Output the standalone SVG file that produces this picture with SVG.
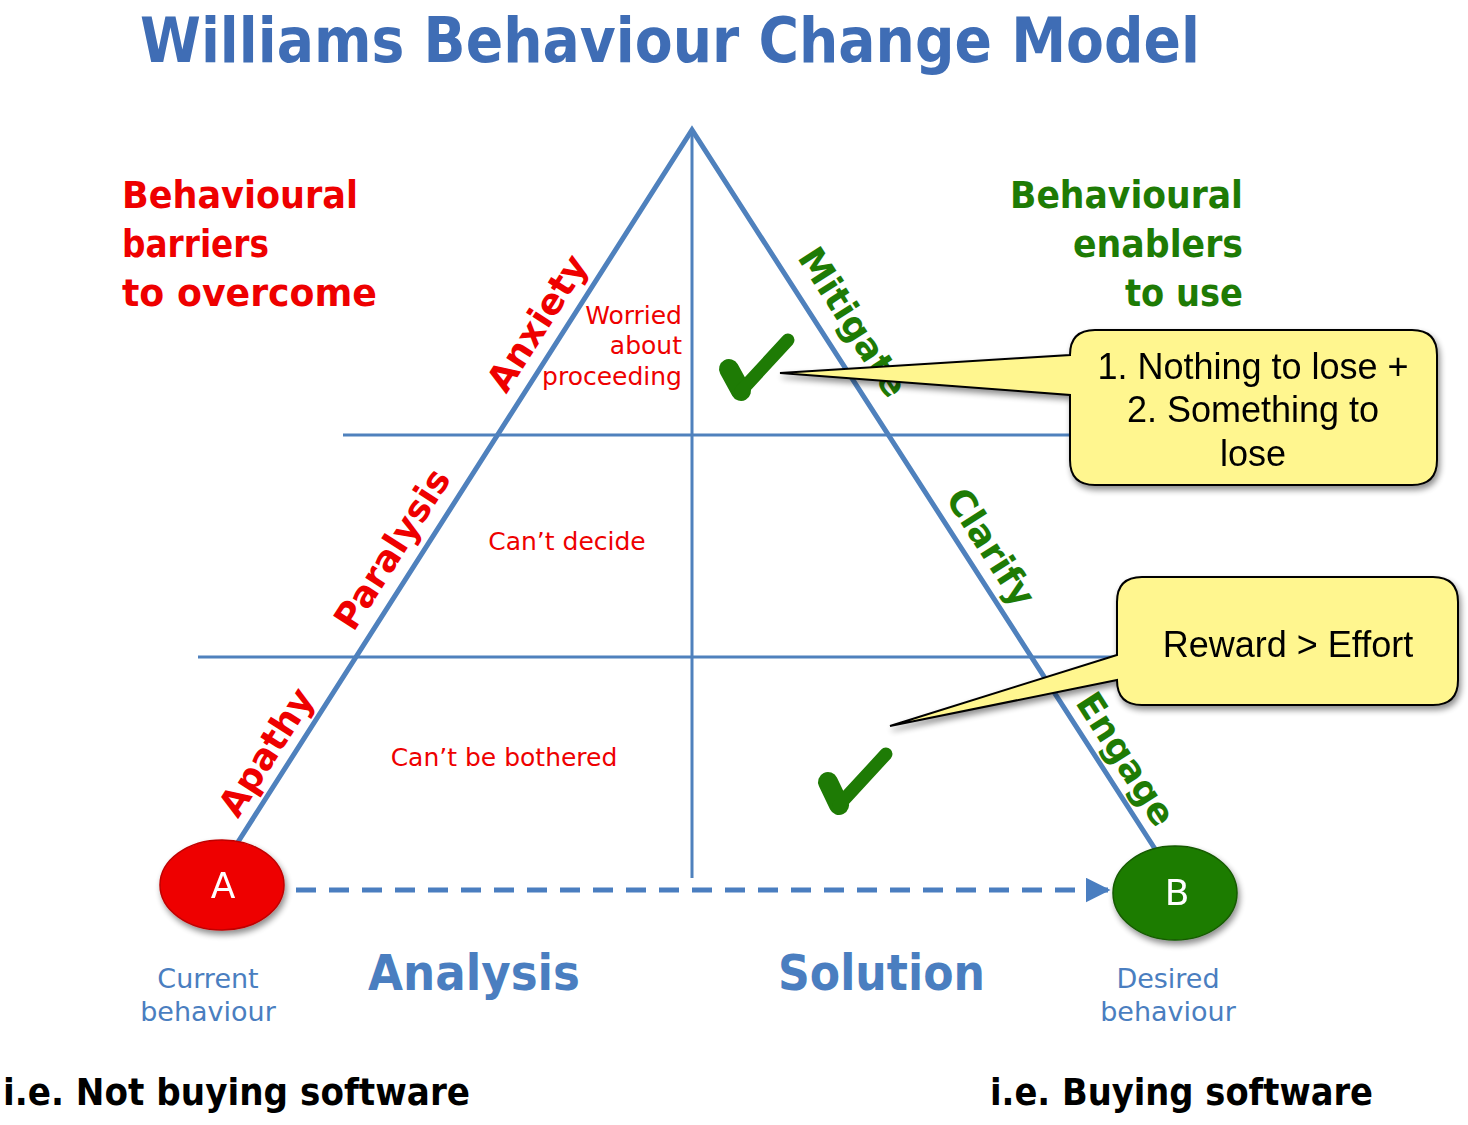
<svg xmlns="http://www.w3.org/2000/svg" width="1468" height="1125" viewBox="0 0 1468 1125">
<defs>
<filter id="sh" x="-20%" y="-20%" width="150%" height="150%">
<feGaussianBlur in="SourceAlpha" stdDeviation="3"/>
<feOffset dx="2" dy="4" result="b"/>
<feComponentTransfer><feFuncA type="linear" slope="0.45"/></feComponentTransfer>
<feMerge><feMergeNode/><feMergeNode in="SourceGraphic"/></feMerge>
</filter>
<marker id="arr" viewBox="0 0 10 10" refX="9" refY="5" markerWidth="5" markerHeight="5" markerUnits="strokeWidth" orient="auto">
<path d="M0,0 L10,5 L0,10 z" fill="#4A7EC0"/>
</marker>
</defs>
<style>
.g{font-family:"DejaVu Sans","Liberation Sans",sans-serif}
.a{font-family:"Liberation Sans",Arial,sans-serif;fill:#000;font-size:36px;text-anchor:middle}
.tri{stroke:#4F81BD;stroke-width:5;fill:none;stroke-linecap:round}
.hl{stroke:#4F81BD;stroke-width:3;fill:none}
.red{fill:#EE0000}
.grn{fill:#1E7B05}
.blu{fill:#4A7EC0}
.bar{font-weight:bold;font-size:37px}
.side{font-size:36px;text-anchor:middle;font-weight:bold}
.sm{font-size:25px}
.chk{stroke:#1E7B05;fill:none;stroke-linecap:round;stroke-linejoin:round}
.call{fill:#FFF68F;stroke:#000;stroke-width:2}
</style>
<rect width="1468" height="1125" fill="#fff"/>
<text class="g" x="140" y="62" font-size="62" font-weight="bold" fill="#3F6DB5" textLength="1060" lengthAdjust="spacingAndGlyphs">Williams Behaviour Change Model</text>

<g id="connectors">
<line class="hl" x1="343" y1="435" x2="1075" y2="435"/>
<line class="hl" x1="198" y1="657" x2="1120" y2="657"/>
<line class="hl" x1="692" y1="130" x2="692" y2="878"/>
<polyline class="tri" points="238,842 692,130 1157,852"/>
<line x1="296" y1="890" x2="1108" y2="890" stroke="#4A7EC0" stroke-width="5" stroke-dasharray="20 13" marker-end="url(#arr)"/>
</g>

<g id="barriers" class="g red bar">
<text x="122" y="208" textLength="236" lengthAdjust="spacingAndGlyphs">Behavioural</text>
<text x="122" y="257" textLength="147" lengthAdjust="spacingAndGlyphs">barriers</text>
<text x="122" y="306" textLength="255" lengthAdjust="spacingAndGlyphs">to overcome</text>
</g>
<g id="enablers" class="g grn bar">
<text x="1010" y="208" textLength="233" lengthAdjust="spacingAndGlyphs">Behavioural</text>
<text x="1073" y="257" textLength="170" lengthAdjust="spacingAndGlyphs">enablers</text>
<text x="1125" y="306" textLength="118" lengthAdjust="spacingAndGlyphs">to use</text>
</g>

<g id="anxiety" class="g red side"><text transform="translate(537,323) rotate(-57.5)" dy="0.35em">Anxiety</text></g>
<g id="paralysis" class="g red side"><text transform="translate(392,549) rotate(-57.5)" dy="0.35em">Paralysis</text></g>
<g id="apathy" class="g red side"><text transform="translate(266,752) rotate(-57.5)" dy="0.35em">Apathy</text></g>
<g id="mitigate" class="g grn side"><text transform="translate(853,322) rotate(57.3)" dy="0.35em">Mitigate</text></g>
<g id="clarify" class="g grn side"><text transform="translate(991,547) rotate(57.3)" dy="0.35em">Clarify</text></g>
<g id="engage" class="g grn side"><text transform="translate(1126,759) rotate(57.3)" dy="0.35em">Engage</text></g>

<g id="worried" class="g red sm" text-anchor="end">
<text x="682" y="324">Worried</text>
<text x="682" y="354">about</text>
<text x="682" y="385">proceeding</text>
</g>
<g id="cantdecide" class="g red sm" text-anchor="middle"><text x="567" y="550">Can’t decide</text></g>
<g id="cantbother" class="g red sm" text-anchor="middle"><text x="504" y="766">Can’t be bothered</text></g>

<g id="check1">
<path class="chk" d="M729,369 L741,391" stroke-width="20"/>
<path class="chk" d="M741,391 L788,340" stroke-width="13"/>
</g>
<g id="check2">
<path class="chk" d="M828,782 L839,805" stroke-width="20"/>
<path class="chk" d="M839,805 L886,754" stroke-width="13"/>
</g>

<g id="callout1" filter="url(#sh)">
<path class="call" d="M1095,330 H1412 Q1437,330 1437,355 V460 Q1437,485 1412,485 H1095 Q1070,485 1070,460 V395 L780,373 L1070,355 Q1070,330 1095,330 Z"/>
<text class="a" x="1253" y="379">1. Nothing to lose +</text>
<text class="a" x="1253" y="422">2. Something to</text>
<text class="a" x="1253" y="466">lose</text>
</g>
<g id="callout2" filter="url(#sh)">
<path class="call" d="M1142,577 H1433 Q1458,577 1458,602 V680 Q1458,705 1433,705 H1142 Q1117,705 1117,680 L890,726 L1117,655 V602 Q1117,577 1142,577 Z"/>
<text class="a" x="1288" y="657">Reward &gt; Effort</text>
</g>

<g id="nodeA" filter="url(#sh)">
<ellipse cx="222" cy="885" rx="62" ry="45" fill="#EE0000" stroke="#C00000" stroke-width="1.5"/>
<text class="g" x="223" y="898" font-size="36" fill="#fff" text-anchor="middle">A</text>
</g>
<g id="nodeB" filter="url(#sh)">
<ellipse cx="1175" cy="893" rx="62" ry="47" fill="#1E7B05" stroke="#145a02" stroke-width="1.5"/>
<text class="g" x="1177" y="905" font-size="36" fill="#fff" text-anchor="middle">B</text>
</g>

<g id="current" class="g blu" font-size="27" text-anchor="middle">
<text x="208" y="988">Current</text>
<text x="208" y="1021">behaviour</text>
</g>
<g id="desired" class="g blu" font-size="27" text-anchor="middle">
<text x="1168" y="988">Desired</text>
<text x="1168" y="1021">behaviour</text>
</g>
<g id="analysis" class="g" font-size="50" font-weight="bold" fill="#4A7EC0"><text x="368" y="990" textLength="212" lengthAdjust="spacingAndGlyphs">Analysis</text></g>
<g id="solution" class="g" font-size="50" font-weight="bold" fill="#4A7EC0"><text x="778" y="990" textLength="207" lengthAdjust="spacingAndGlyphs">Solution</text></g>

<g id="notbuying" class="g" font-size="38" font-weight="bold" fill="#000"><text x="3" y="1105" textLength="467" lengthAdjust="spacingAndGlyphs">i.e. Not buying software</text></g>
<g id="buying" class="g" font-size="38" font-weight="bold" fill="#000"><text x="990" y="1105" textLength="383" lengthAdjust="spacingAndGlyphs">i.e. Buying software</text></g>
</svg>
